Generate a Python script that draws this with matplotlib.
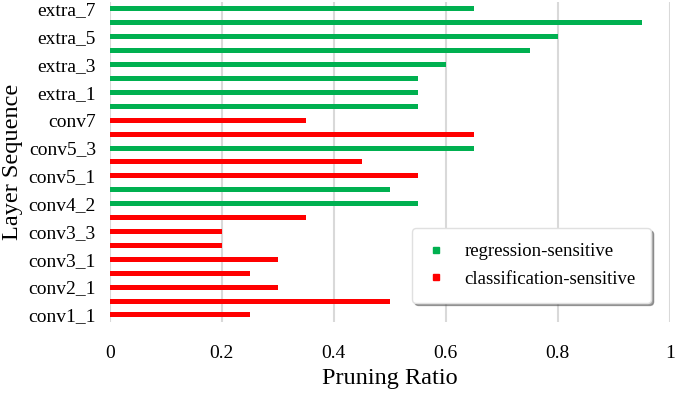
import matplotlib
matplotlib.use("Agg")
import matplotlib.pyplot as plt
from matplotlib.lines import Line2D

# layers from bottom to top
layers = ["conv1_1", "conv1_2", "conv2_1", "conv2_2", "conv3_1", "conv3_2", "conv3_3",
          "conv4_1", "conv4_2", "conv4_3", "conv5_1", "conv5_2", "conv5_3", "conv6", "conv7",
          "extra_0", "extra_1", "extra_2", "extra_3", "extra_4", "extra_5", "extra_6", "extra_7"]
ratios = [0.25, 0.5, 0.3, 0.25, 0.3, 0.2, 0.2, 0.35, 0.55, 0.5, 0.55, 0.45, 0.65, 0.65, 0.35,
          0.55, 0.55, 0.55, 0.6, 0.75, 0.8, 0.95, 0.65]
# r = regression-sensitive, c = classification-sensitive
kinds = ["c", "c", "c", "c", "c", "c", "c", "c", "r", "r", "c", "c", "r", "c", "c",
         "r", "r", "r", "r", "r", "r", "r", "r"]
x_ticks = [0, 0.2, 0.4, 0.6, 0.8, 1]

green = "#00B050"
red = "#FF0000"
colors = [green if k == "r" else red for k in kinds]

plt.rcParams["font.family"] = ["Liberation Serif", "DejaVu Serif"]

fig = plt.figure(figsize=(6.78, 3.93), dpi=100)
ax = fig.add_axes([0.162, 0.181, 0.826, 0.814])

idx = list(range(len(layers)))
ax.barh(idx, ratios, height=0.36, color=colors, zorder=3)

ax.set_xlim(0, 1.0)
ax.set_ylim(-0.5, len(layers) - 0.5)
ax.set_xticks(x_ticks)
ax.set_xticklabels(["0", "0.2", "0.4", "0.6", "0.8", "1"], fontsize=14)
ax.set_yticks(idx[::2])
ax.set_yticklabels(layers[::2], fontsize=14)
ax.tick_params(axis="both", length=0)
ax.tick_params(axis="x", pad=17)
ax.tick_params(axis="y", pad=10)

ax.grid(axis="x", color="#d9d9d9", linewidth=1.5, zorder=0)
for s in ax.spines.values():
    s.set_visible(False)

ax.set_xlabel("Pruning Ratio", fontsize=17.5, labelpad=4)
ax.set_ylabel("Layer Sequence", fontsize=17.5, labelpad=4)

handles = [Line2D([], [], marker="s", linestyle="none", color=green, markersize=5),
           Line2D([], [], marker="s", linestyle="none", color=red, markersize=5)]
leg = ax.legend(handles, ["regression-sensitive", "classification-sensitive"],
                loc="lower right", bbox_to_anchor=(0.966, 0.06), fontsize=13.5,
                fancybox=True, shadow=True, framealpha=1, borderpad=0.8,
                handlelength=1.0, handletextpad=1.0, labelspacing=0.55, borderaxespad=0)
leg.get_frame().set_edgecolor("#e0e0e0")

fig.savefig("out.png", dpi=100)
